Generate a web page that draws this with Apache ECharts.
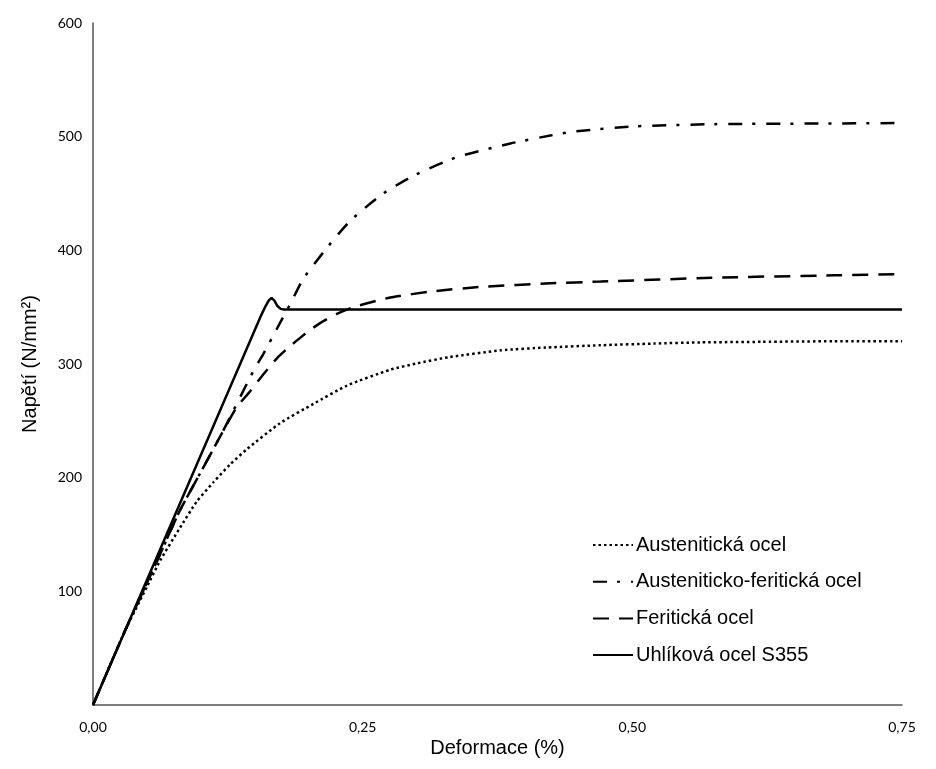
<!DOCTYPE html>
<html>
<head>
<meta charset="utf-8">
<script src="https://cdn.jsdelivr.net/npm/echarts@6/dist/echarts.min.js"></script>
<style>
  html, body { margin: 0; padding: 0; background: #fff; }
  #chart { width: 936px; height: 769px; }
</style>
</head>
<body>
<div id="chart"></div>
<script>
var seriesNames = ['Austenitická ocel', 'Austeniticko-feritická ocel', 'Feritická ocel', 'Uhlíková ocel S355'];

// [deformace %, napětí N/mm2]
var austeniticka = [
  [0, 0], [0.03, 66], [0.05, 104], [0.0622, 127], [0.0807, 156], [0.0962, 179],
  [0.1117, 196], [0.127, 211.5], [0.1426, 225], [0.1735, 248], [0.2045, 265],
  [0.2354, 281], [0.2756, 295], [0.30, 300.5], [0.33, 306], [0.378, 312], [0.42, 314.5],
  [0.4706, 316.5], [0.52, 318], [0.563, 319], [0.62, 319.5], [0.687, 320], [0.75, 320]
];

var austenitickoFeriticka = [
  [0, 0], [0.03, 66], [0.06, 128], [0.08, 170], [0.104, 212], [0.12, 240], [0.1333, 265],
  [0.1488, 294], [0.158, 309], [0.166, 323], [0.175, 339], [0.183, 353], [0.195, 375],
  [0.2167, 402], [0.2385, 426], [0.269, 450], [0.30, 467], [0.3375, 482], [0.387, 494],
  [0.424, 501], [0.446, 504.5], [0.501, 509], [0.5755, 511], [0.687, 511.6], [0.75, 512]
];

var feriticka = [
  [0, 0], [0.03, 66], [0.06, 128], [0.08, 170], [0.104, 212], [0.12, 240], [0.1333, 262],
  [0.1457, 276], [0.158, 291], [0.1705, 305], [0.183, 316], [0.192, 323], [0.2014, 330],
  [0.2105, 336], [0.226, 344], [0.2415, 350], [0.2756, 358.5], [0.3155, 364], [0.362, 368],
  [0.424, 371], [0.4706, 372.5], [0.579, 376], [0.687, 378], [0.75, 379]
];

var uhlikova = [
  [0, 0], [0.155, 341], [0.160, 351], [0.163, 356], [0.1655, 358], [0.168, 356],
  [0.171, 351], [0.174, 348.5], [0.177, 348], [0.75, 348]
];

var xTicks = [0, 0.25, 0.5, 0.75];
var yTicks = [100, 200, 300, 400, 500, 600];

var tickFont = "Lato, 'Open Sans', sans-serif";
var mainFont = "'Liberation Sans', Arial, sans-serif";

function lineSeries(name, data, dash, width, smooth) {
  return {
    name: name,
    type: 'line',
    data: data,
    symbol: 'none',
    smooth: smooth,
    clip: false,
    lineStyle: { color: '#000', width: width, type: dash },
    itemStyle: { color: '#000' }
  };
}

echarts.init(document.getElementById('chart')).setOption({
  animation: false,
  backgroundColor: '#fff',
  grid: { left: 93, right: 34, top: 23, bottom: 64 },
  legend: {
    orient: 'vertical',
    left: 587,
    top: 530,
    itemWidth: 40,
    itemHeight: 14,
    itemGap: 16.7,
    itemStyle: { opacity: 0 },
    lineStyle: { width: 2 },
    textStyle: { fontFamily: mainFont, fontSize: 20, color: '#000', padding: [0, 0, 0, -2] },
    data: seriesNames
  },
  xAxis: {
    type: 'value',
    min: 0,
    max: 0.75,
    interval: 0.25,
    name: 'Deformace (%)',
    nameLocation: 'middle',
    nameGap: 29,
    nameTextStyle: { fontFamily: mainFont, fontSize: 20, color: '#000' },
    axisLine: { lineStyle: { color: '#555', width: 1.5 } },
    axisTick: { show: false },
    splitLine: { show: false },
    axisLabel: {
      margin: 15,
      fontFamily: tickFont,
      fontSize: 14,
      color: '#000',
      formatter: function (v) {
        return xTicks.indexOf(v) >= 0 ? v.toFixed(2).replace('.', ',') : '';
      }
    }
  },
  yAxis: {
    type: 'value',
    min: 0,
    max: 600,
    interval: 100,
    name: 'Napětí (N/mm²)',
    nameLocation: 'middle',
    nameGap: 53,
    nameTextStyle: { fontFamily: mainFont, fontSize: 20, color: '#000' },
    axisLine: { show: true, lineStyle: { color: '#555', width: 1.5 } },
    axisTick: { show: false },
    splitLine: { show: false },
    axisLabel: {
      margin: 11,
      fontFamily: tickFont,
      fontSize: 14,
      color: '#000',
      formatter: function (v) {
        return yTicks.indexOf(v) >= 0 ? String(v) : '';
      }
    }
  },
  series: [
    lineSeries(seriesNames[0], austeniticka, [2.5, 3], 2.5, 0.2),
    lineSeries(seriesNames[1], austenitickoFeriticka, [14, 10, 3, 11], 2.5, 0.2),
    lineSeries(seriesNames[2], feriticka, [16, 10], 2.5, 0.2),
    lineSeries(seriesNames[3], uhlikova, 'solid', 2.5, false)
  ]
});
</script>
</body>
</html>
